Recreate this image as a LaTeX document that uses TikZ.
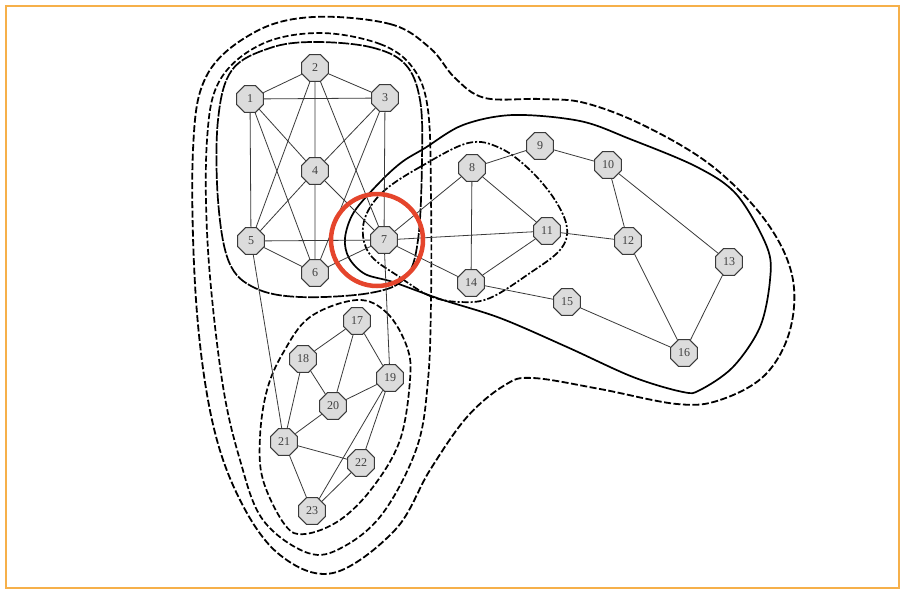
\documentclass[tikz,border=0pt]{standalone}
\usepackage{fontspec}
\setmainfont{Liberation Serif}
\usetikzlibrary{shapes.geometric}
\definecolor{frameorange}{HTML}{F6B04A}
\definecolor{ringred}{HTML}{E5452C}
\definecolor{nodefill}{HTML}{DCDCDC}
\definecolor{edgegray}{HTML}{3A3A3A}
\tikzset{
  vtx/.style={regular polygon, regular polygon sides=8, minimum size=29pt, inner sep=0pt,
    fill=nodefill, draw=edgegray, line width=1.1pt, text=black!75,
    font=\fontsize{12}{12}\selectfont},
  edge/.style={draw=edgegray, line width=0.8pt},
  contA/.style={draw=black, line width=1.8pt, dash pattern=on 7pt off 2.5pt},
  contB/.style={draw=black, line width=1.7pt, dash pattern=on 6pt off 2.5pt},
  contCone/.style={draw=black, line width=1.7pt, dash pattern=on 11pt off 1.5pt},
  contCtwo/.style={draw=black, line width=1.7pt},
  contCtwoa/.style={draw=black, line width=1.7pt, dash pattern=on 7pt off 2pt on 2pt off 2pt},
  contCthree/.style={draw=black, line width=1.7pt, dash pattern=on 6pt off 2.5pt},
}
\begin{document}
\begin{tikzpicture}[x=1pt,y=-1pt]
\useasboundingbox (0,0) rectangle (901,590);
\fill[white] (0,0) rectangle (901,590);
\draw[frameorange, line width=2pt] (6,6) rectangle (899,588);

% outer contour (all)
\draw[contA] plot[smooth cycle, tension=0.6] coordinates {
 (313,17) (390,24) (430,48) (455,78) (485,98) (540,99) (585,103) (645,126)
 (712,166) (765,220) (792,275) (790,330) (765,375) (720,400) (677,404)
 (600,389) (533,378) (505,385) (467,417) (430,470) (395,530) (333,573)
 (280,555) (240,500) (212,420) (196,300) (193,150) (207,75) (255,32)};

% clusters 1+3
\draw[contB] plot[smooth cycle, tension=0.6] coordinates {
 (320,33) (380,44) (413,68) (428,110) (431,200) (431,300) (428,380)
 (417,447) (383,513) (343,547) (308,553) (263,520) (240,460) (222,380)
 (208,250) (207,140) (220,80) (262,44)};

% cluster 1
\draw[contCone] plot[smooth cycle, tension=0.6] coordinates {
 (313,42) (370,47) (405,64) (420,100) (422,160) (418,240) (405,278)
 (370,293) (300,297) (255,288) (229,262) (218,200) (218,120) (232,70) (270,48)};

% cluster 3
\draw[contCthree] plot[smooth cycle, tension=0.6] coordinates {
 (357,300) (387,313) (407,347) (410,380) (400,440) (373,487) (340,520)
 (305,534) (285,525) (263,480) (260,437) (267,390) (283,353) (310,317)};

% cluster 2
\draw[contCtwo] plot[smooth cycle, tension=0.55] coordinates {
 (425,148) (463,125) (513,115) (580,121) (630,139) (697,167) (737,195)
 (767,247) (770,280) (760,327) (733,367) (700,390) (683,392) (633,377)
 (567,347) (500,318) (440,299) (393,282) (365,274) (349,258) (345,238)
 (354,212) (380,182) (402,162)};

% cluster 7,8,11,14
\draw[contCtwoa] plot[smooth cycle, tension=0.6] coordinates {
 (385,190) (420,167) (468,143) (500,148) (530,170) (555,200) (567,228)
 (560,250) (530,273) (490,298) (460,302) (430,296) (398,276) (372,257)
 (363,236) (367,213)};

% nodes
\node[vtx] (n1) at (250,99) {1};
\node[vtx] (n2) at (315,68) {2};
\node[vtx] (n3) at (385,98) {3};
\node[vtx] (n4) at (315,171) {4};
\node[vtx] (n5) at (251,241) {5};
\node[vtx] (n6) at (315,273) {6};
\node[vtx] (n7) at (384,240) {7};
\node[vtx] (n8) at (472,168) {8};
\node[vtx] (n9) at (540,146) {9};
\node[vtx] (n10) at (608,165) {10};
\node[vtx] (n11) at (547,231) {11};
\node[vtx] (n12) at (628,241) {12};
\node[vtx] (n13) at (729,262) {13};
\node[vtx] (n14) at (471,283) {14};
\node[vtx] (n15) at (567,302) {15};
\node[vtx] (n16) at (684,353) {16};
\node[vtx] (n17) at (357,321) {17};
\node[vtx] (n18) at (303,359) {18};
\node[vtx] (n19) at (390,378) {19};
\node[vtx] (n20) at (333,406) {20};
\node[vtx] (n21) at (284,442) {21};
\node[vtx] (n22) at (361,463) {22};
\node[vtx] (n23) at (312,511) {23};

% edges
\foreach \a/\b in {1/2,2/3,1/3,1/4,1/5,1/6,2/4,2/5,2/7,3/4,3/6,3/7,4/5,4/6,4/7,5/6,5/7,6/7,
  5/21,7/19,7/8,7/11,7/14,8/9,8/11,8/14,9/10,10/12,10/13,11/12,11/14,12/16,13/16,14/15,15/16,
  17/18,17/19,17/20,18/20,18/21,19/20,19/22,19/23,20/21,21/22,21/23,22/23}
  \draw[edge] (n\a) -- (n\b);

% red ring
\node[draw=ringred, line width=4.5pt, circle, minimum size=92pt, inner sep=0pt] (ring) at (377,240) {};
\end{tikzpicture}
\end{document}
